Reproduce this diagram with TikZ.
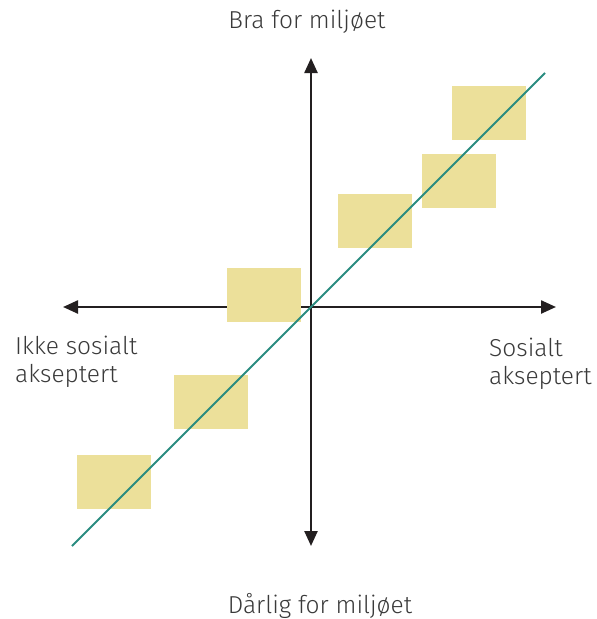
\documentclass[tikz,border=0pt]{standalone}
\usepackage{fontspec}
\setmainfont{Fira Sans Light}
\usetikzlibrary{arrows.meta}
\definecolor{axiscol}{HTML}{231F20}
\definecolor{teal}{HTML}{2A8C80}
\definecolor{boxcol}{HTML}{ECE09A}
\definecolor{txtcol}{HTML}{3A3A3A}
\tikzset{
  axis/.style={line width=2.4pt, draw=axiscol, -{Triangle[length=15pt,width=13pt]}},
  ybox/.style={fill=boxcol, draw=none, minimum width=74pt, minimum height=54pt, inner sep=0pt},
  lbl/.style={text=txtcol, font=\fontsize{24.5pt}{28pt}\selectfont, inner sep=0pt},
  slbl/.style={lbl, anchor=base west},
  trend/.style={line width=2pt, draw=teal}
}
\begin{document}
\begin{tikzpicture}[x=1pt,y=-1pt]
\useasboundingbox (0,0) rectangle (597,619);
\coordinate (o) at (311,307);
\coordinate (top) at (311,58);
\coordinate (bot) at (311,546);
\coordinate (lft) at (63,307);
\coordinate (rgt) at (556,307);
\draw[axis] (o) -- (top);
\draw[axis] (o) -- (bot);
\draw[axis] (o) -- (lft);
\draw[axis] (o) -- (rgt);
\node[ybox] (b1) at (489,113) {};
\node[ybox] (b2) at (459,181) {};
\node[ybox] (b3) at (375,221) {};
\node[ybox] (b4) at (264,295) {};
\node[ybox] (b5) at (211,401.5) {};
\node[ybox] (b6) at (114,481.5) {};
\coordinate (t1) at (72,546);
\coordinate (t2) at (545,73);
\draw[trend] (t1) -- (t2);
\node[lbl, anchor=base] (nt) at (307,28) {Bra for miljøet};
\node[lbl, anchor=base] (nb) at (320,613) {Dårlig for miljøet};
\node[slbl] (nl1) at (15,354) {Ikke sosialt};
\node[slbl] (nl2) at (15,382) {akseptert};
\node[slbl] (nr1) at (489,356) {Sosialt};
\node[slbl] (nr2) at (489,384) {akseptert};
\end{tikzpicture}
\end{document}
